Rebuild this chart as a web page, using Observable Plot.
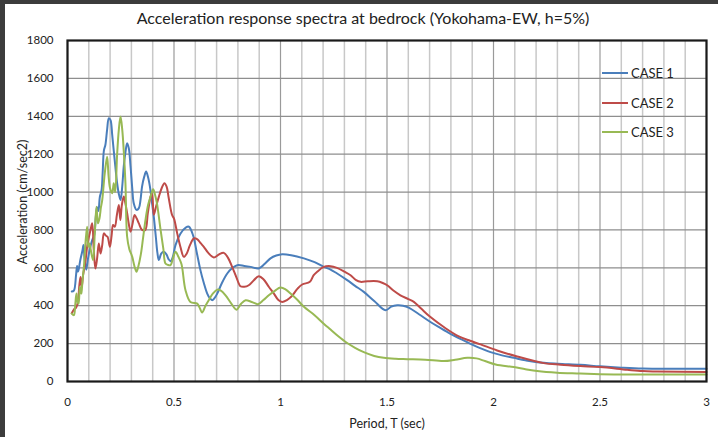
<!DOCTYPE html>
<html>
<head>
<meta charset="utf-8">
<script src="https://cdn.jsdelivr.net/npm/d3@7"></script>
<script src="https://cdn.jsdelivr.net/npm/@observablehq/plot@0.6"></script>
<style>
  html, body { margin: 0; padding: 0; background: #3c3c3c; width: 718px; height: 437px; overflow: hidden; }
  #card { position: absolute; left: 5px; top: 4px; width: 713px; height: 433px; background: #fff; font-family: Lato, "Open Sans", sans-serif; }
  #title { position: absolute; left: 0; width: 716px; top: 4px; text-align: center; font-size: 16px; color: #222; }
  #chart { position: absolute; left: 0; top: 24px; }
  .leg { position: absolute; font-size: 13px; color: #222; display: flex; align-items: center; }
  .leg span.sw { display: inline-block; width: 26px; height: 2px; margin-right: 3px; }
</style>
</head>
<body>
<div id="card">
  <div id="title">Acceleration response spectra at bedrock (Yokohama-EW, h=5%)</div>
  <div id="chart"></div>
  <div id="legend"></div>
</div>
<script>
const seriesNames = ["CASE 1", "CASE 2", "CASE 3"];
const seriesColors = ["#4a7ebb", "#be4b48", "#98b954"];

const case1 = [[0.02,475],[0.03,480],[0.04,560],[0.045,610],[0.05,580],[0.06,640],[0.07,690],[0.075,720],[0.08,650],[0.088,590],[0.095,640],[0.105,700],[0.116,746],[0.125,770],[0.133,870],[0.139,920],[0.145,900],[0.152,975],[0.16,1010],[0.165,1100],[0.171,1220],[0.178,1250],[0.186,1330],[0.194,1390],[0.202,1380],[0.21,1300],[0.217,1220],[0.225,1130],[0.233,1047],[0.241,990],[0.249,958],[0.257,1030],[0.264,1135],[0.272,1210],[0.28,1258],[0.288,1230],[0.296,1135],[0.304,1020],[0.311,941],[0.324,906],[0.335,915],[0.343,960],[0.35,1029],[0.36,1080],[0.369,1108],[0.378,1080],[0.387,1029],[0.396,950],[0.405,870],[0.415,760],[0.422,680],[0.429,641],[0.44,675],[0.452,685],[0.465,670],[0.475,645],[0.484,635],[0.495,660],[0.507,720],[0.53,780],[0.555,812],[0.57,817],[0.59,770],[0.607,680],[0.624,588],[0.64,520],[0.656,464],[0.668,440],[0.679,429],[0.69,440],[0.703,464],[0.725,520],[0.75,570],[0.775,600],[0.797,614],[0.83,610],[0.86,605],[0.898,597],[0.925,620],[0.953,650],[0.98,665],[1.008,672],[1.05,667],[1.11,650],[1.16,630],[1.203,605],[1.235,591],[1.266,570],[1.313,535],[1.35,505],[1.391,473],[1.44,425],[1.493,376],[1.52,395],[1.548,402],[1.575,400],[1.602,390],[1.65,355],[1.704,314],[1.75,283],[1.798,252],[1.85,222],[1.892,199],[1.94,175],[1.986,155],[2.04,138],[2.095,125],[2.15,112],[2.205,102],[2.3,94],[2.408,88],[2.5,80],[2.6,73],[2.7,68],[2.85,67],[3.0,67]];

const case2 = [[0.02,360],[0.03,380],[0.04,390],[0.049,420],[0.055,500],[0.061,552],[0.067,500],[0.073,560],[0.08,605],[0.086,650],[0.092,711],[0.1,760],[0.108,800],[0.116,835],[0.123,700],[0.131,596],[0.139,650],[0.147,729],[0.155,676],[0.163,720],[0.171,782],[0.18,770],[0.188,764],[0.199,711],[0.207,770],[0.214,826],[0.222,817],[0.232,880],[0.241,932],[0.248,852],[0.255,930],[0.264,976],[0.272,940],[0.28,888],[0.288,830],[0.296,791],[0.305,830],[0.315,879],[0.325,860],[0.335,835],[0.35,800],[0.365,800],[0.377,888],[0.39,976],[0.397,994],[0.405,880],[0.415,920],[0.429,976],[0.442,1020],[0.455,1047],[0.465,1030],[0.475,970],[0.491,879],[0.5,860],[0.515,782],[0.53,711],[0.546,658],[0.56,676],[0.575,720],[0.593,755],[0.61,750],[0.625,730],[0.64,711],[0.66,680],[0.687,655],[0.71,670],[0.734,679],[0.755,650],[0.773,605],[0.793,550],[0.812,503],[0.83,500],[0.851,508],[0.875,535],[0.898,556],[0.92,540],[0.945,500],[0.969,464],[0.99,430],[1.008,420],[1.03,430],[1.05,447],[1.08,490],[1.102,512],[1.138,526],[1.155,560],[1.172,579],[1.203,605],[1.235,609],[1.265,600],[1.3,580],[1.329,561],[1.355,535],[1.376,526],[1.41,529],[1.454,529],[1.48,520],[1.501,508],[1.53,480],[1.563,455],[1.6,435],[1.626,420],[1.66,385],[1.704,340],[1.77,285],[1.837,238],[1.89,215],[1.939,196],[2.017,164],[2.111,132],[2.236,97],[2.315,89],[2.408,82],[2.502,76],[2.628,62],[2.7,55],[2.768,53],[3.0,50]];

const case3 = [[0.02,358],[0.03,350],[0.036,400],[0.042,464],[0.047,420],[0.052,411],[0.058,500],[0.065,464],[0.07,530],[0.077,605],[0.085,740],[0.092,817],[0.097,711],[0.103,729],[0.11,690],[0.12,641],[0.128,780],[0.136,922],[0.143,835],[0.15,860],[0.157,920],[0.163,958],[0.175,1100],[0.186,1187],[0.193,1082],[0.2,1020],[0.21,994],[0.217,1047],[0.224,1000],[0.233,1200],[0.241,1330],[0.249,1399],[0.257,1330],[0.265,1200],[0.272,1047],[0.28,764],[0.29,700],[0.304,658],[0.314,610],[0.324,579],[0.333,610],[0.345,676],[0.355,760],[0.366,852],[0.378,930],[0.39,976],[0.402,1015],[0.41,990],[0.42,940],[0.437,800],[0.45,700],[0.46,623],[0.472,615],[0.484,614],[0.495,650],[0.507,685],[0.52,660],[0.535,620],[0.554,482],[0.577,420],[0.609,411],[0.62,390],[0.632,364],[0.648,400],[0.663,429],[0.683,465],[0.703,485],[0.72,480],[0.742,455],[0.77,410],[0.793,379],[0.815,410],[0.836,429],[0.865,420],[0.894,408],[0.92,430],[0.945,455],[0.975,480],[1.0,496],[1.025,485],[1.047,464],[1.08,430],[1.11,394],[1.16,350],[1.203,305],[1.235,274],[1.27,240],[1.313,203],[1.35,178],[1.391,155],[1.44,135],[1.485,125],[1.54,120],[1.595,118],[1.68,115],[1.767,108],[1.82,115],[1.877,125],[1.92,122],[1.96,108],[2.01,90],[2.095,76],[2.15,65],[2.205,55],[2.299,46],[2.408,42],[2.5,38],[3.0,37]];

const xTicks = [0, 0.5, 1, 1.5, 2, 2.5, 3];
const xTickLabels = ["0", "0.5", "1", "1.5", "2", "2.5", "3"];
const xMinorGrid = [0.1,0.2,0.3,0.4,0.6,0.7,0.8,0.9,1.1,1.2,1.3,1.4,1.6,1.7,1.8,1.9,2.1,2.2,2.3,2.4,2.6,2.7,2.8,2.9];
const yTicks = [0, 200, 400, 600, 800, 1000, 1200, 1400, 1600, 1800];
const yTickLabels = ["0", "200", "400", "600", "800", "1000", "1200", "1400", "1600", "1800"];

const allSeries = [case1, case2, case3];
const rows = allSeries.flatMap((s, i) => s.map(([t, a]) => ({t, a, name: seriesNames[i]})));

const chart = Plot.plot({
  width: 713,
  height: 409,
  marginLeft: 62,
  marginRight: 12,
  marginTop: 12,
  marginBottom: 56,
  style: { fontFamily: "Lato, 'Open Sans', sans-serif", fontSize: "11.5px", color: "#222", background: "transparent" },
  x: { domain: [0, 3], ticks: xTicks, tickFormat: d => xTickLabels[xTicks.indexOf(d)], tickSize: 0, tickPadding: 16, label: "Period, T (sec)", labelAnchor: "center", labelOffset: 46, labelArrow: "none" },
  y: { domain: [0, 1800], ticks: yTicks, tickFormat: d => yTickLabels[yTicks.indexOf(d)], tickSize: 0, tickPadding: 14, label: "Acceleration (cm/sec2)", labelAnchor: "center", labelOffset: 49, labelArrow: "none" },
  color: { domain: seriesNames, range: seriesColors },
  marks: [
    Plot.ruleX(xMinorGrid, { stroke: "#c8c8c8", strokeWidth: 1.5 }),
    Plot.ruleX(xTicks, { stroke: "#9a9a9a", strokeWidth: 1.2 }),
    Plot.ruleY(yTicks, { stroke: "#8e8e8e", strokeWidth: 1.2 }),
    Plot.line(rows, { x: "t", y: "a", z: "name", stroke: "name", strokeWidth: 2, curve: "catmull-rom" }),
    Plot.frame({ stroke: "#1a1a1a", strokeWidth: 2.2 })
  ]
});
chart.querySelectorAll("[aria-label='x-axis label'] text, [aria-label='y-axis label'] text").forEach(t => {
  t.style.fontSize = "12.5px";
  t.textContent = t.textContent.replace(/\s*[→↑←↓]\s*/g, "");
});
chart.querySelectorAll("[aria-label='y-axis label'] text").forEach(t => {
  const tr = t.getAttribute("transform") || "";
  t.setAttribute("transform", tr + " translate(9,0)");
});
document.getElementById("chart").appendChild(chart);

const legend = document.getElementById("legend");
seriesNames.forEach((n, i) => {
  const d = document.createElement("div");
  d.className = "leg";
  d.style.left = "597px";
  d.style.top = (61 + i * 29.5) + "px";
  d.innerHTML = `<span class="sw" style="background:${seriesColors[i]}"></span>${n}`;
  legend.appendChild(d);
});
</script>
</body>
</html>
